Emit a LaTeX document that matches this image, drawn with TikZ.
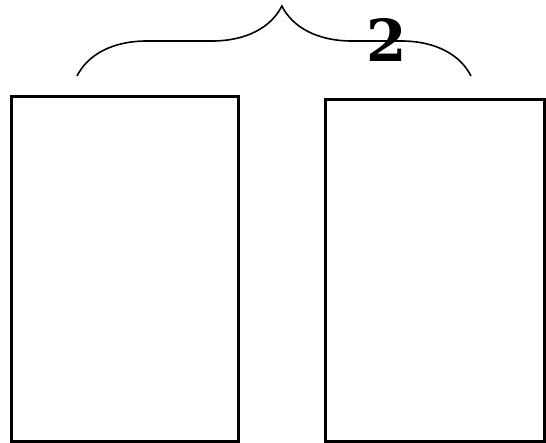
\documentclass[tikz,border=0pt]{standalone}
\usepackage{fontspec}
\newfontfamily\countfont{DejaVu Serif}
\usepackage{tikz}
\usetikzlibrary{positioning,calc,decorations.pathreplacing}

\begin{document}
\begin{tikzpicture}[x=1pt,y=-1pt]
            \useasboundingbox (0,0) rectangle (546,443);

            % Boxes
            \node[draw,line width=3pt,minimum width=227pt,minimum height=344pt,inner sep=0pt] (box1) at (124.5,269) {};
            \node[draw,line width=3pt,minimum width=219pt,minimum height=341pt,inner sep=0pt] (box2) at (434.5,270.5) {};

            % Brace
            \coordinate (b1) at (77,76);
            \coordinate (b2) at (471,76);
            \draw[line width=1.6pt,decorate,decoration={brace,amplitude=70pt,aspect=0.52}] (b1) -- (b2);
            \node (count) at (387,40) {\fontsize{58}{58}\selectfont\countfont\bfseries 2};
        \end{tikzpicture}
\end{document}
